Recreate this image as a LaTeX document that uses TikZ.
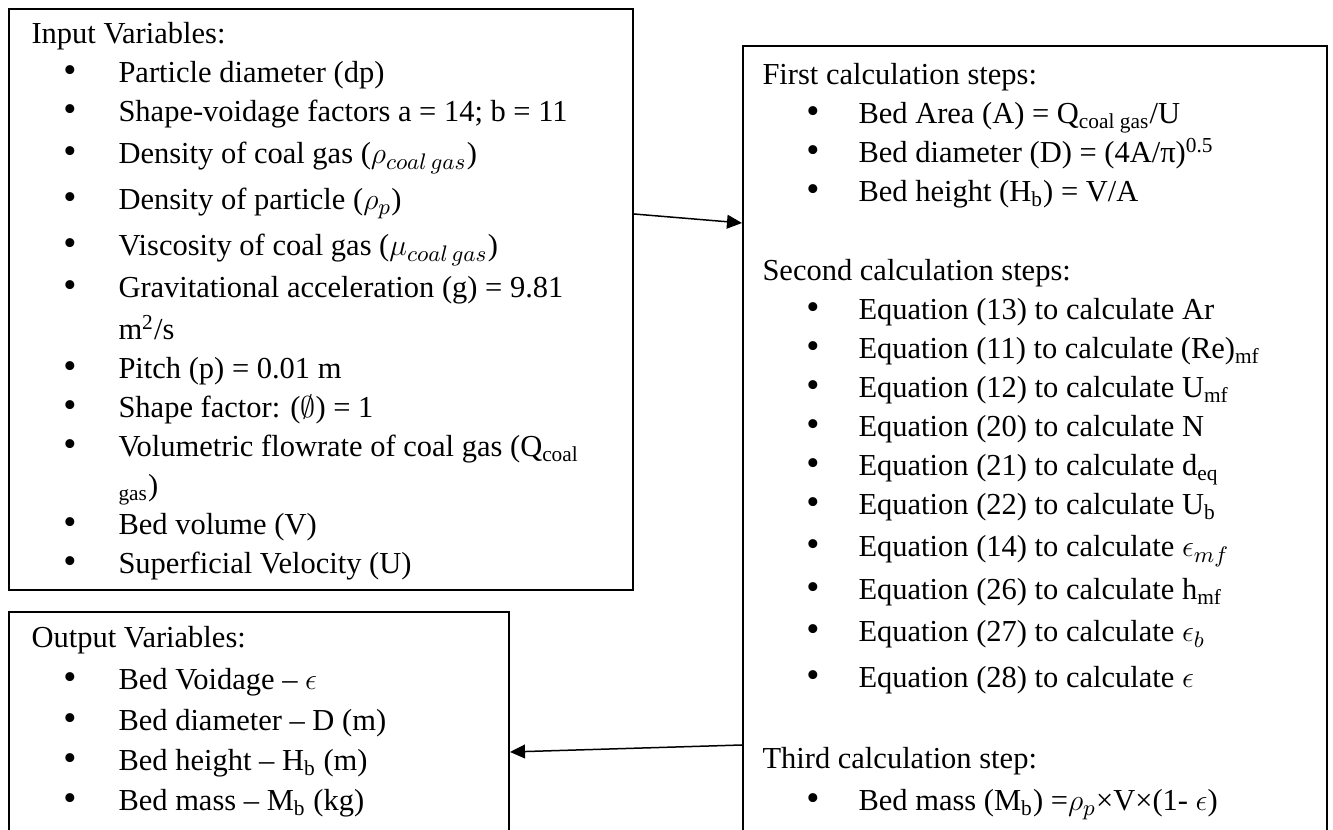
\documentclass[tikz,border=0pt]{standalone}
\usepackage{fontspec}
\setmainfont{Liberation Serif}
\usetikzlibrary{arrows.meta,fit}
\newcommand\fs{\fontsize{12.2}{14}\selectfont}
\newcommand\bigbul{{\fontsize{15}{15}\selectfont •}}
\tikzset{
  frame/.style={draw=black, line width=0.8pt, inner sep=0pt},
  txt/.style={anchor=base west, inner sep=0pt, font=\fs},
  bul/.style={anchor=base, inner sep=0pt, font=\fs},
  arr/.style={-{Triangle[length=6pt,width=5.5pt]}, line width=0.6pt, draw=black},
}
\begin{document}
\begin{tikzpicture}[x=0.4pt,y=-0.4pt]
\useasboundingbox (0,0) rectangle (1333,830);
\fill[white] (0,0) rectangle (1333,830);
% boxes
\node[frame, fit={(9,9) (633,590)}] (inbox) {};
\node[frame, fit={(743,46) (1327,880)}] (calcbox) {};
\node[frame, fit={(9,612) (509,880)}] (outbox) {};
% input text
\node[txt] (in0) at (31,44) {Input Variables:};
\foreach \n/\y/\t in {
  1/83/{Particle diameter (dp)},
  2/122/{Shape-voidage factors a = 14; b = 11},
  3/164/{Density of coal gas ($\rho_{coal\,gas}$)},
  4/210/{Density of particle ($\rho_p$)},
  5/256/{Viscosity of coal gas ($\mu_{coal\,gas}$)},
  6/298/{Gravitational acceleration (g) = 9.81},
  8/379/{Pitch (p) = 0.01 m},
  9/418/{Shape factor: ($\emptyset$) = 1},
  10/457/{Volumetric flowrate of coal gas (Q\textsubscript{coal}},
  12/535/{Bed volume (V)},
  13/574/{Superficial Velocity (U)}}{
  \node[bul] (inb\n) at (70,\y) {\bigbul};
  \node[txt] (in\n) at (118,\y) {\t};
}
\node[txt] (in7) at (118,340) {m\textsuperscript{2}/s};
\node[txt] (in11) at (118,496) {\textsubscript{gas})};
% output text
\node[txt] (out0) at (31,648) {Output Variables:};
\foreach \n/\y/\t in {
  1/690/{Bed Voidage – $\epsilon$},
  2/731/{Bed diameter – D (m)},
  3/771/{Bed height – H\textsubscript{b} (m)},
  4/811/{Bed mass – M\textsubscript{b} (kg)}}{
  \node[bul] (outb\n) at (70,\y) {\bigbul};
  \node[txt] (out\n) at (118,\y) {\t};
}
% calculation text
\node[txt] (c0) at (762,85) {First calculation steps:};
\node[txt] (c5) at (762,281) {Second calculation steps:};
\node[txt] (c17) at (762,769) {Third calculation step:};
\foreach \n/\y/\t in {
  1/124/{Bed Area (A) = Q\textsubscript{coal gas}/U},
  2/163/{Bed diameter (D) = (4A/π)\textsuperscript{0.5}},
  3/202/{Bed height (H\textsubscript{b}) = V/A},
  6/320/{Equation (13) to calculate Ar},
  7/359/{Equation (11) to calculate (Re)\textsubscript{mf}},
  8/398/{Equation (12) to calculate U\textsubscript{mf}},
  9/437/{Equation (20) to calculate N},
  10/476/{Equation (21) to calculate d\textsubscript{eq}},
  11/515/{Equation (22) to calculate U\textsubscript{b}},
  12/557/{Equation (14) to calculate $\epsilon_{mf}$},
  13/600/{Equation (26) to calculate h\textsubscript{mf}},
  14/642/{Equation (27) to calculate $\epsilon_b$},
  15/688/{Equation (28) to calculate $\epsilon$},
  18/811/{Bed mass (M\textsubscript{b}) =$\rho_p$×V×(1- $\epsilon$)}}{
  \node[bul] (cb\n) at (813,\y) {\bigbul};
  \node[txt] (c\n) at (858,\y) {\t};
}
% connectors
\draw[arr] (inbox.east |- 0,214) -- (calcbox.west |- 0,223);
\draw[arr] (calcbox.west |- 0,745) -- (outbox.east |- 0,752);
\end{tikzpicture}
\end{document}
